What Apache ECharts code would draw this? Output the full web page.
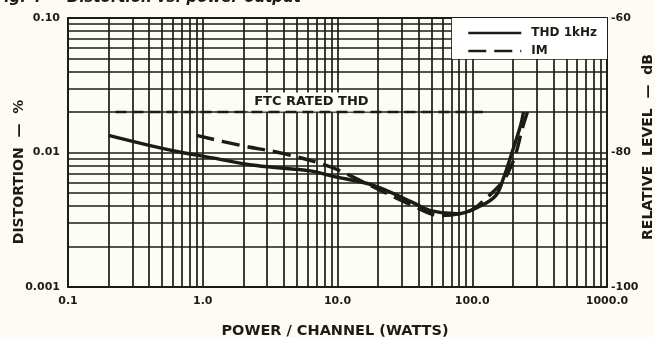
<!DOCTYPE html>
<html>
<head>
<meta charset="utf-8">
<script src="https://cdn.jsdelivr.net/npm/echarts@6/dist/echarts.min.js"></script>
<style>
  html, body { margin: 0; padding: 0; background: #fcfcf5; }
  #chart { width: 655px; height: 337px; }
</style>
</head>
<body>
<div id="chart"></div>
<script>
// Power per channel (W) and distortion (%) for each curve
const thdPower = [0.2, 0.4, 0.7, 1.0, 2.5, 6.3, 9, 18.5, 37, 49, 77, 115, 150, 171, 196, 228, 240];
const thdValue = [0.0134, 0.0113, 0.0100, 0.0094, 0.0080, 0.0073, 0.0067, 0.0057, 0.0042, 0.0037, 0.0035, 0.0040, 0.0048, 0.0065, 0.0098, 0.0158, 0.0200];
const imPower = [0.9, 1.9, 4.0, 8.9, 15.7, 36.6, 58, 97, 122, 140, 171, 195, 212, 235, 257];
const imValue = [0.0134, 0.0113, 0.0098, 0.0078, 0.0060, 0.0040, 0.0034, 0.0037, 0.0044, 0.0050, 0.0062, 0.0080, 0.0100, 0.0150, 0.0200];

// FTC rated THD limit
const ftcPower = [0.225, 6.4, 120];
const ftcValue = [0.02, 0.02, 0.02];
const ftcLabelIndex = 1;

// Axis tick labels
const xTickLabels = ['0.1', '1.0', '10.0', '100.0', '1000.0'];
const yTickLabels = ['0.001', '0.01', '0.10'];
const dbTicks = [-100, -80, -60];

// Axis ranges
const xRange = [0.1, 1000];
const yRange = [0.001, 0.1];

// Log-paper grid lines (1..9 per decade)
const xGridValues = [];
for (let d = -1; d < 3; d++) for (let m = 1; m <= 9; m++) xGridValues.push(m * Math.pow(10, d));
xGridValues.push(1000);
const yGridValues = [];
for (let d = -3; d < -1; d++) for (let m = 1; m <= 9; m++) yGridValues.push(m * Math.pow(10, d));
yGridValues.push(0.1);

const ink = '#1c1b14';
const font = 'DejaVu Sans';

const chart = echarts.init(document.getElementById('chart'), null, { renderer: 'canvas' });

// Each grid line is a segment between two data points on the log axes
const gridLines = [
  ...xGridValues.map(v => [{ coord: [v, yRange[0]] }, { coord: [v, yRange[1]] }]),
  ...yGridValues.map(v => [{ coord: [xRange[0], v] }, { coord: [xRange[1], v] }])
];

chart.setOption({
  backgroundColor: '#fcfcf5',
  animation: false,
  textStyle: { fontFamily: font },
  grid: {
    left: 68, right: 48, top: 18, bottom: 50,
    show: true, backgroundColor: '#fdfdf8', borderColor: ink, borderWidth: 1.8
  },
  legend: {
    orient: 'vertical',
    right: 48, top: 18,
    backgroundColor: '#ffffff',
    padding: [9, 10, 2, 15],
    itemWidth: 53, itemHeight: 10, itemGap: 6,
    itemStyle: { opacity: 0 },
    lineStyle: { width: 2.6 },
    textStyle: { fontFamily: font, fontWeight: 'bold', fontSize: 12, color: ink, padding: [0, 0, 0, 5] },
    data: ['THD 1kHz', 'IM']
  },
  xAxis: {
    type: 'log', logBase: 10, min: xRange[0], max: xRange[1],
    axisLine: { show: false }, axisTick: { show: false }, splitLine: { show: false },
    axisLabel: {
      margin: 9, color: ink, fontFamily: font, fontWeight: 'bold', fontSize: 11,
      formatter: v => xTickLabels[Math.round(Math.log10(v)) + 1]
    }
  },
  yAxis: [
    {
      type: 'log', logBase: 10, min: yRange[0], max: yRange[1],
      axisLine: { show: false }, axisTick: { show: false }, splitLine: { show: false },
      axisLabel: {
        margin: 8, color: ink, fontFamily: font, fontWeight: 'bold', fontSize: 11,
        formatter: v => yTickLabels[Math.round(Math.log10(v)) + 3]
      }
    },
    {
      type: 'value', position: 'right', min: dbTicks[0], max: dbTicks[dbTicks.length - 1], interval: 20,
      axisLine: { show: false }, axisTick: { show: false }, splitLine: { show: false },
      axisLabel: { margin: 4, color: ink, fontFamily: font, fontWeight: 'bold', fontSize: 11 }
    }
  ],
  series: [
    {
      name: 'grid',
      type: 'line',
      data: [],
      silent: true,
      markLine: {
        silent: true, z: 1, animation: false,
        symbol: ['none', 'none'],
        label: { show: false },
        lineStyle: { color: ink, width: 1.7, type: 'solid' },
        emphasis: { disabled: true },
        data: gridLines
      }
    },
    {
      name: 'FTC',
      type: 'line',
      data: ftcPower.map((p, i) => [p, ftcValue[i]]),
      symbol: 'none',
      z: 3,
      lineStyle: { color: ink, width: 2.6, type: [11, 6] },
      label: { show: false },
      markPoint: {
        symbol: 'rect', symbolSize: 0, z: 3,
        data: [{
          coord: [ftcPower[ftcLabelIndex], ftcValue[ftcLabelIndex]],
          label: {
            show: true, formatter: 'FTC RATED THD', offset: [0, -10],
            color: ink, fontFamily: font, fontWeight: 'bold', fontSize: 13,
            backgroundColor: '#fdfdf8', padding: [3, 6, 3, 6]
          }
        }]
      }
    },
    {
      name: 'THD 1kHz',
      type: 'line',
      data: thdPower.map((p, i) => [p, thdValue[i]]),
      symbol: 'none', smooth: 0.35, z: 3,
      lineStyle: { color: ink, width: 3.4, type: 'solid' },
      itemStyle: { color: ink }
    },
    {
      name: 'IM',
      type: 'line',
      data: imPower.map((p, i) => [p, imValue[i]]),
      symbol: 'none', smooth: 0.35, z: 3,
      lineStyle: { color: ink, width: 3.4, type: [18, 8] },
      itemStyle: { color: ink }
    }
  ],
  graphic: [
    {
      type: 'text', left: -6, top: -9, z: 10,
      style: { text: 'Fig. 4 — Distortion vs. power output', fill: ink, font: 'italic bold 15px "DejaVu Sans"' }
    },
    {
      type: 'text', x: 19, y: 172, rotation: Math.PI / 2, z: 10,
      style: { text: 'DISTORTION  —  %', fill: ink, font: 'bold 14px "DejaVu Sans"', align: 'center', verticalAlign: 'middle' }
    },
    {
      type: 'text', x: 648, y: 147, rotation: Math.PI / 2, z: 10,
      style: { text: 'RELATIVE  LEVEL  —  dB', fill: ink, font: 'bold 14px "DejaVu Sans"', align: 'center', verticalAlign: 'middle' }
    },
    {
      type: 'text', x: 335, y: 331, z: 10,
      style: { text: 'POWER / CHANNEL (WATTS)', fill: ink, font: 'bold 14.5px "DejaVu Sans"', align: 'center', verticalAlign: 'middle' }
    }
  ]
});
</script>
</body>
</html>
